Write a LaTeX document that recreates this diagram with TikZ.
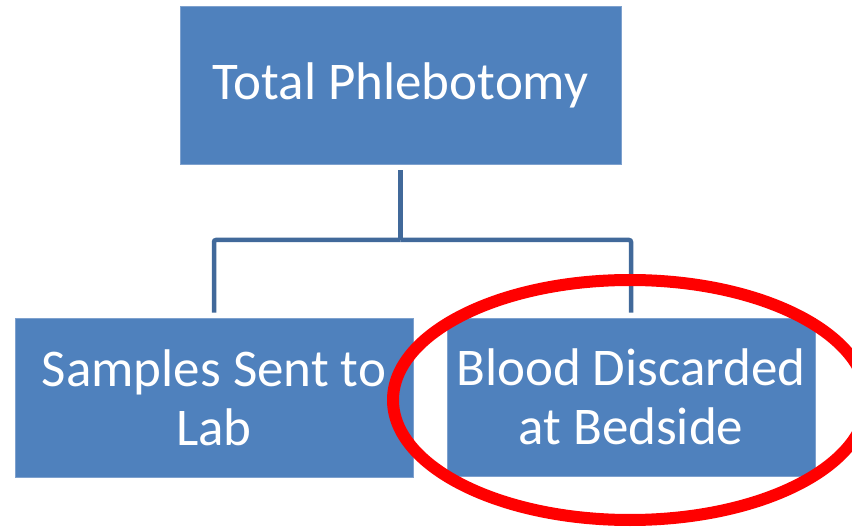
\documentclass[tikz,border=0pt]{standalone}
\usepackage{fontspec}
\setmainfont{Carlito}
\usetikzlibrary{positioning}
\definecolor{boxblue}{HTML}{4F81BD}
\definecolor{boxedge}{HTML}{7EA1CE}
\definecolor{linkblue}{HTML}{41699A}
\tikzset{
  blockbox/.style={fill=boxblue, draw=boxedge, line width=0.8pt, text=white,
    align=center, inner sep=0pt, font=\fontsize{53}{59}\selectfont},
  link/.style={draw=linkblue, line width=4.5pt, rounded corners=2pt}
}
\begin{document}
\begin{tikzpicture}[x=1pt,y=-1pt]
    % Canvas
    \useasboundingbox (0,0) rectangle (852,529);
    \clip (0,0) rectangle (852,529);

    % Boxes
    \node[blockbox, minimum width=441pt, minimum height=158pt] (total) at (400.5,85) {Total Phlebotomy};
    \node[blockbox, minimum width=398pt, minimum height=159pt] (lab) at (214,397.5) {Samples Sent to\\Lab};
    \node[blockbox, minimum width=368pt, minimum height=158pt] (bedside) at (631,397) {Blood Discarded\\at Bedside};

    % Connectors
    \coordinate (split) at (400.5,240);
    \draw[link] ([yshift=-6pt]total.south) -- (split);
    \draw[link] (split) -| ([yshift=5pt]lab.north);
    \draw[link] (split) -| ([yshift=5pt]bedside.north);

    % Highlight
    \draw[red, line width=12pt] (630,400) ellipse [x radius=237, y radius=120];
\end{tikzpicture}
\end{document}
